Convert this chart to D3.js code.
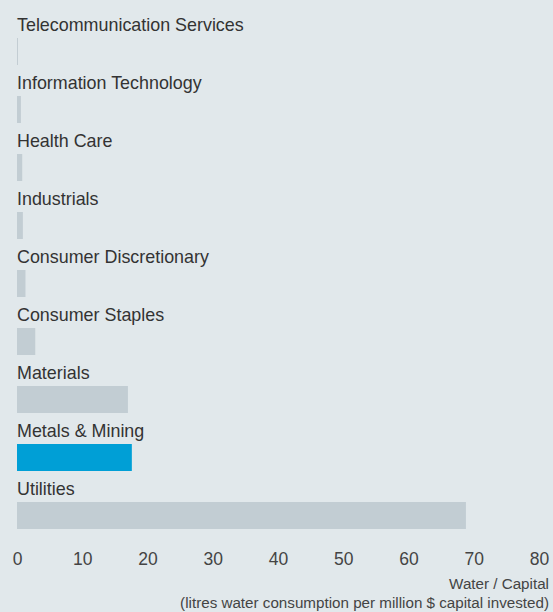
<!DOCTYPE html>
<html>
<head>
<meta charset="utf-8">
<script src="https://cdn.jsdelivr.net/npm/d3@7"></script>
<style>
  body { margin: 0; background: #e1e8eb; }
  svg { display: block; }
  text { font-family: "Liberation Sans", Arial, sans-serif; fill: #333; }
</style>
</head>
<body>
<div id="chart-area"></div>
<script>
// sectors, top to bottom
var sectors = ["Telecommunication Services", "Information Technology", "Health Care",
    "Industrials", "Consumer Discretionary", "Consumer Staples", "Materials",
    "Metals & Mining", "Utilities"];
// litres water per million $ capital invested
var values = [0.15, 0.6, 0.8, 0.9, 1.3, 2.8, 17.0, 17.6, 68.8];
var highlight = "Metals & Mining";
var xTicks = [0, 10, 20, 30, 40, 50, 60, 70, 80];

var width = 553, height = 612;

var svg = d3.select("#chart-area")
    .append("svg")
        .attr("width", width)
        .attr("height", height);

svg.append("rect")
    .attr("width", width)
    .attr("height", height)
    .attr("fill", "#e1e8eb");

var x = d3.scaleLinear()
    .domain([0, 80])
    .range([17, 539]);

var y = d3.scaleBand()
    .domain(sectors)
    .range([38, 529])
    .paddingInner(0.5345)
    .paddingOuter(0);

var rows = svg.selectAll("g.row")
    .data(sectors)
    .enter()
    .append("g")
        .attr("class", "row");

rows.append("rect")
    .attr("x", x(0))
    .attr("y", function(d){ return y(d); })
    .attr("width", function(d, i){ return x(values[i]) - x(0); })
    .attr("height", y.bandwidth())
    .attr("fill", function(d){ return d === highlight ? "#009fd6" : "#c2cdd3"; });

rows.append("text")
    .attr("x", x(0))
    .attr("y", function(d){ return y(d) - 7; })
    .attr("font-size", "17.9px")
    .text(function(d){ return d; });

var xAxisCall = d3.axisBottom(x)
    .tickValues(xTicks)
    .tickSize(0)
    .tickPadding(0);

var xAxis = svg.append("g")
    .attr("class", "x axis")
    .attr("transform", "translate(0, 553)")
    .call(xAxisCall);
xAxis.select(".domain").remove();
xAxis.selectAll("text")
    .attr("font-size", "17.5px")
    .attr("dy", "0.71em")
    .style("fill", "#444")
    .style("font-family", "'Liberation Sans', Arial, sans-serif");

svg.append("text")
    .attr("x", 549)
    .attr("y", 589)
    .attr("font-size", "15.2px")
    .attr("text-anchor", "end")
    .style("fill", "#444")
    .text("Water / Capital");

svg.append("text")
    .attr("x", 549)
    .attr("y", 608)
    .attr("font-size", "15.2px")
    .attr("text-anchor", "end")
    .style("fill", "#444")
    .text("(litres water consumption per million $ capital invested)");
</script>
</body>
</html>
